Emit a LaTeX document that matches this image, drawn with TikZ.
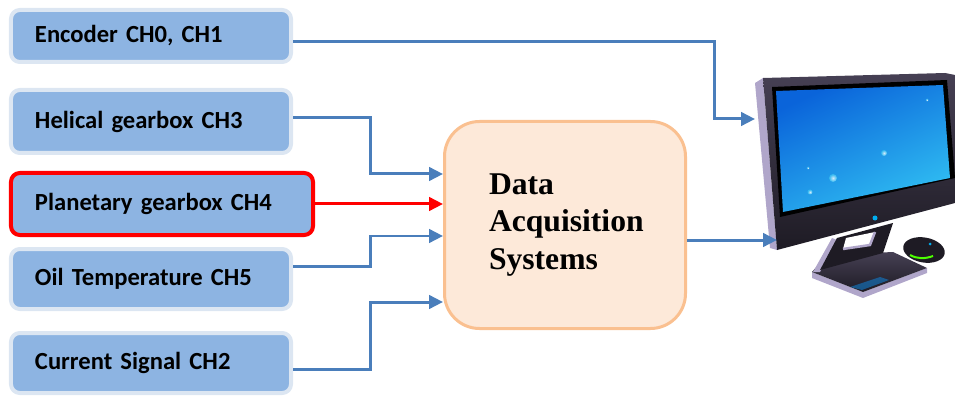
\documentclass[tikz,border=0pt]{standalone}
\usepackage{fontspec}
\newfontfamily\labelfont{Carlito}
\newfontfamily\daqfont{Liberation Serif}
\usetikzlibrary{arrows.meta,positioning,calc}

\definecolor{boxblue}{RGB}{141,180,226}
\definecolor{haloblue}{RGB}{220,230,242}
\definecolor{wireblue}{RGB}{74,126,187}
\definecolor{daqfill}{RGB}{253,233,217}
\definecolor{daqedge}{RGB}{250,192,144}
\definecolor{bezel}{RGB}{30,27,36}
\definecolor{bezellight}{RGB}{70,64,84}
\definecolor{silver}{RGB}{176,166,202}
\definecolor{scrtop}{RGB}{10,100,218}
\definecolor{scrbot}{RGB}{48,190,242}

\begin{document}
\begin{tikzpicture}[>={Triangle[length=0.28cm,width=0.27cm]}]
  \tikzstyle{chan}=[draw=haloblue,line width=0.08cm,fill=boxblue,rounded corners=5pt,inner xsep=0.48cm,text width=4.64cm,align=left,font=\labelfont\bfseries\fontsize{14}{16}\selectfont]
  \tikzstyle{wire}=[->,draw=wireblue,line width=0.06cm]
  \useasboundingbox (0,0) rectangle (19.1,-7.94);

  \node[chan,minimum height=1.04cm,anchor=north west] (enc) at (0.18,-0.16) {Encoder CH0, CH1};
  \node[chan,minimum height=1.26cm,below=0.48cm of enc.south west,anchor=north west] (hel) {Helical gearbox CH3};
  \node[chan,draw=red,text width=5.08cm,minimum height=1.24cm,below=0.32cm of hel.south west,anchor=north west] (pla) {Planetary gearbox CH4};
  \node[chan,minimum height=1.2cm,below=0.2cm of pla.south west,anchor=north west] (oil) {Oil Temperature CH5};
  \node[chan,minimum height=1.2cm,below=0.4cm of oil.south west,anchor=north west] (cur) {Current Signal CH2};

  \node[draw=daqedge,fill=daqfill,line width=0.06cm,rounded corners=0.7cm,minimum width=4.82cm,minimum height=4.14cm,inner xsep=0.89cm,text width=3.04cm,align=left,font=\daqfont\bfseries\fontsize{18}{21.3}\selectfont] (daq) at (11.3,-4.5) {Data\\Acquisition\\Systems};

  % monitor: base, neck, bezel, screen, mouse
  \fill[silver] (16.24,-5.44) -- (17.26,-5.84) -- (18.54,-5.36) -- (18.54,-5.46) -- (17.26,-5.96) -- (16.24,-5.56) -- cycle;
  \shade[top color=bezellight,bottom color=bezel] (16.24,-5.44) -- (16.54,-5.1) -- (17.86,-5.04) -- (18.54,-5.36) -- (17.26,-5.84) -- cycle;
  \fill[cyan!60!blue,opacity=0.6] (17.0,-5.74) -- (17.6,-5.54) -- (17.78,-5.6) -- (17.24,-5.8) -- cycle;
  \fill[silver] (16.64,-4.76) -- (16.26,-5.44) -- (16.4,-5.44) -- (16.74,-4.8) -- cycle;
  \fill[bezel] (16.74,-4.76) -- (17.86,-4.46) -- (17.66,-5.06) -- (16.4,-5.4) -- cycle;
  \fill[white] (16.92,-4.76) -- (17.5,-4.64) -- (17.4,-4.9) -- (16.86,-4.98) -- cycle;
  \draw[silver,line width=0.05cm] (16.86,-4.98) -- (17.4,-4.9) -- (17.5,-4.64);
  \fill[silver] (15.1,-1.66) -- (15.26,-1.56) -- (15.54,-5.0) -- (15.4,-4.96) -- cycle;
  \shade[top color=bezellight,bottom color=bezel] (15.26,-1.56) -- (18.9,-1.46) -- (19.1,-1.5) -- (19.1,-4.06) -- (15.54,-5.0) -- cycle;
  \fill[black] (15.44,-1.74) -- (18.94,-1.6) -- (19.1,-3.56) -- (15.6,-4.34) -- cycle;
  \shade[top color=scrtop,bottom color=scrbot,shading angle=25] (15.52,-1.82) -- (18.86,-1.7) -- (19.0,-3.56) -- (15.66,-4.24) -- cycle;
  \foreach \x/\y/\r in {16.66/-3.56/0.08,16.2/-3.84/0.05,17.68/-3.06/0.06,18.54/-2.0/0.03,16.16/-3.36/0.03}
    \shade[inner color=white,outer color=scrbot,opacity=0.8] (\x,\y) circle (\r);
  \fill[cyan] (17.5,-4.36) circle (0.05);
  \fill[bezel,rotate around={-10:(18.48,-5.0)}] (18.48,-5.0) ellipse (0.42 and 0.25);
  \draw[green!70!yellow,line width=0.04cm] (18.2,-5.1) .. controls (18.34,-5.18) and (18.5,-5.18) .. (18.66,-5.12);
  \fill[cyan] (18.6,-4.88) circle (0.03);

  \coordinate (pcA) at (15.1,-2.38);
  \coordinate (pcB) at (15.54,-4.8);

  \draw[wire] ([yshift=-0.11cm]enc.east) -| ([xshift=-0.82cm]pcA) -- (pcA);
  \draw[wire] ([yshift=0.07cm]hel.east) -- ++(1.54,0) |- ([yshift=1.02cm]daq.west);
  \draw[wire,draw=red] (pla.east) -- (pla.east -| daq.west);
  \draw[wire] ([yshift=0.26cm]oil.east) -- ++(1.54,0) |- ([yshift=-0.22cm]daq.west);
  \draw[wire] ([yshift=-0.12cm]cur.east) -- ++(1.54,0) |- ([yshift=-1.54cm]daq.west);
  \draw[wire] ([yshift=-0.3cm]daq.east) -- (pcB);
\end{tikzpicture}
\end{document}
